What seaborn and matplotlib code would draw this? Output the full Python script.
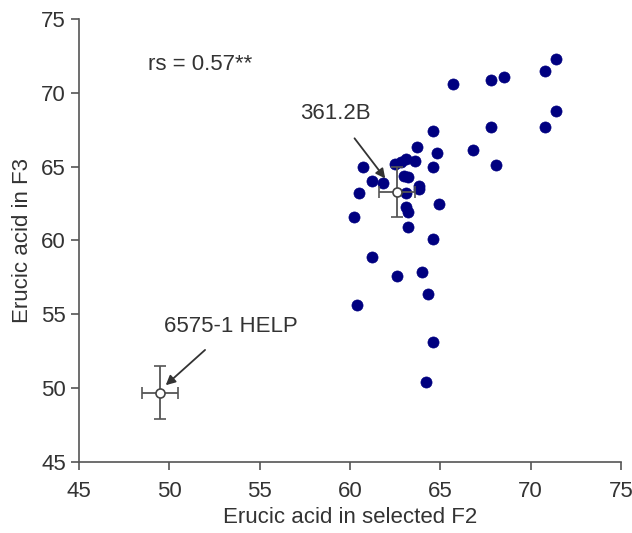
import matplotlib
matplotlib.use("Agg")
import matplotlib.pyplot as plt
import seaborn as sns
import pandas as pd

sns.set_style("ticks")
plt.rcParams['font.family'] = ['Liberation Sans', 'DejaVu Sans']

f2 = [71.4, 70.8, 68.5, 67.8, 65.7, 71.4, 70.8, 67.8, 64.6, 63.7,
      66.8, 64.8, 68.1, 64.6, 63.6, 63.1, 62.8, 62.5, 60.7, 61.2,
      61.8, 60.5, 63.0, 63.2, 63.1, 63.8, 63.8, 63.1, 63.2, 64.9,
      60.2, 63.2, 64.6, 61.2, 62.6, 64.0, 64.3, 60.4, 64.6, 64.2]
f3 = [72.3, 71.5, 71.1, 70.9, 70.6, 68.8, 67.7, 67.7, 67.4, 66.3,
      66.1, 65.9, 65.1, 65.0, 65.4, 65.5, 65.3, 65.2, 65.0, 64.0,
      63.9, 63.2, 64.4, 64.3, 63.2, 63.7, 63.5, 62.3, 61.9, 62.5,
      61.6, 60.9, 60.1, 58.9, 57.6, 57.9, 56.4, 55.6, 53.1, 50.4]

parent_names = ["361.2B", "6575-1 HELP"]
parent_x = [62.6, 49.5]
parent_y = [63.3, 49.7]
parent_xerr = [1.0, 1.0]
parent_yerr = [1.7, 1.8]

df = pd.DataFrame({"F2": f2, "F3": f3})

FS = 16
fig = plt.figure(figsize=(6.32, 5.33), dpi=100)
ax = fig.add_axes([0.125, 0.1332, 0.8576, 0.8312])

sns.scatterplot(data=df, x="F2", y="F3", ax=ax, color="#000080", s=64,
                edgecolor="#000080", linewidth=0.5, zorder=3)

ax.errorbar(parent_x, parent_y, xerr=parent_xerr, yerr=parent_yerr, fmt='o',
            mfc='white', mec='#444444', ms=6.5, mew=1.2, ecolor='#555555',
            elinewidth=1.3, capsize=4.5, capthick=1.3, zorder=4)

ax.annotate(parent_names[0], xy=(61.95, 64.2), xytext=(59.2, 68.6),
            ha='center', va='center', fontsize=FS, color='#333333',
            arrowprops=dict(arrowstyle='-|>', color='#333333', lw=1.3,
                            shrinkA=10, shrinkB=0, mutation_scale=14))
ax.annotate(parent_names[1], xy=(49.8, 50.2), xytext=(53.4, 54.15),
            ha='center', va='center', fontsize=FS, color='#333333',
            arrowprops=dict(arrowstyle='-|>', color='#333333', lw=1.3,
                            shrinkA=10, shrinkB=0, mutation_scale=14))

ax.text(48.8, 71.9, "rs = 0.57**", fontsize=FS, color='#333333',
        ha='left', va='center')

ax.set_xlim(45, 75)
ax.set_ylim(45, 75)
ax.set_xticks(range(45, 76, 5))
ax.set_yticks(range(45, 76, 5))
ax.set_xlabel("Erucic acid in selected F2", fontsize=FS, color='#333333',
              labelpad=3)
ax.set_ylabel("Erucic acid in F3", fontsize=FS, color='#333333',
              labelpad=6)
ax.tick_params(labelsize=FS, colors='#555555', labelcolor='#333333',
               length=6, width=1.2)
ax.tick_params(axis='x', pad=8)
sns.despine(ax=ax)
for s in ["left", "bottom"]:
    ax.spines[s].set_color('#555555')
    ax.spines[s].set_linewidth(1.2)

fig.savefig("out.png", dpi=100)
